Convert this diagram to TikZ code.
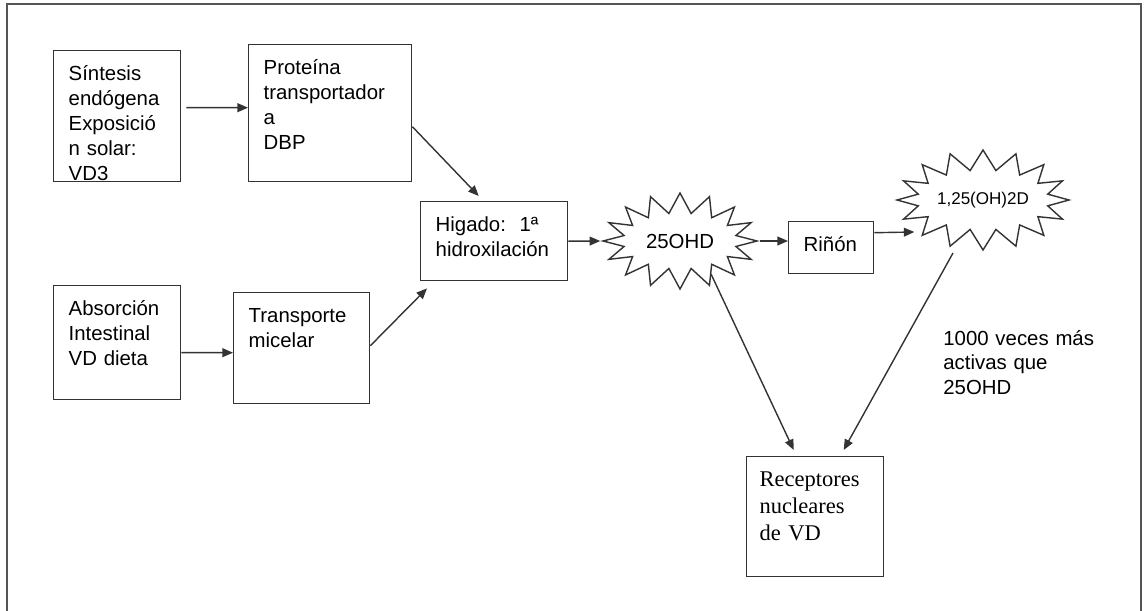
\documentclass[tikz,border=0pt]{standalone}
\usepackage{fontspec}
\setmainfont{Liberation Sans}
\newfontfamily\recfont{Liberation Serif}
\usetikzlibrary{arrows.meta,shapes.symbols}
\definecolor{linegray}{HTML}{333333}
\definecolor{framegray}{HTML}{555555}

\begin{document}
\begin{tikzpicture}[x=0.02cm, y=-0.02cm, >={Triangle[length=6pt,width=5pt]},
    font=\fontsize{11.6}{14.2}\selectfont,
    caja/.style={draw=linegray, line width=0.8pt, anchor=north west, align=left,
        inner xsep=0.3cm, inner ysep=0.2cm, text height=0.4cm},
    estrella/.style={starburst, draw=linegray, line width=0.8pt, starburst points=16,
        starburst point height=0.4cm, random starburst=0, inner sep=0pt},
    flecha/.style={->, line width=0.8pt, linegray}]

    % Frame
    \useasboundingbox (0,0) rectangle (1145,611);
    \draw[framegray, line width=0.8pt] (7,611) -- (7,4) -- (1141,4) -- (1141,611);

    % Boxes
    \node[caja, text width=1.94cm, text depth=1.82cm] (sintesis) at (53,50)
        {Síntesis\\endógena\\Exposició\\n solar:\\VD3};
    \node[caja, text width=2.66cm, text depth=1.94cm] (proteina) at (248,44)
        {Proteína\\transportador\\a\\DBP};
    \node[caja, text width=1.94cm, text depth=1.48cm] (absorcion) at (53,285)
        {Absorción\\Intestinal\\VD dieta};
    \node[caja, text width=2.12cm, text depth=1.42cm] (transporte) at (233,292)
        {Transporte\\micelar};
    \node[caja, text width=2.34cm, text depth=0.78cm] (higado) at (420,201)
        {Higado:~~1ª\\hidroxilación};
    \node[caja, text width=1.1cm, text depth=0.24cm] (rinon) at (788,221) {Riñón};
    \node[caja, font=\recfont\fontsize{12.8}{15.3}\selectfont, inner xsep=0.26cm,
        text width=2.22cm, text depth=1.6cm] (receptores) at (746,456)
        {Receptores\\nucleares\\de VD};

    % Stars
    \node[estrella, minimum width=3.08cm, minimum height=1.92cm] (ohd) at (680,241) {25OHD};
    \node[estrella, font=\fontsize{9.7}{12}\selectfont, minimum width=3.44cm,
        minimum height=2cm] (dihidroxi) at (983,200) {1,25(OH)2D};

    % Note
    \node[anchor=base west, text width=3.6cm, align=left, inner sep=0pt] (nota) at (943,345)
        {1000 veces más\\activas que\\25OHD};

    % Arrows
    \draw[flecha] ([xshift=0.1cm,yshift=0.17cm]sintesis.east) -- ([yshift=0.11cm]proteina.west);
    \draw[flecha] ([yshift=-0.2cm]absorcion.east) -- ([yshift=-0.09cm]transporte.west);
    \draw[flecha] ([yshift=-0.27cm]proteina.east) -- ([xshift=-0.31cm,yshift=0.1cm]higado.north);
    \draw[flecha] ([yshift=0.05cm]transporte.east) -- ([xshift=0.14cm,yshift=-0.14cm]higado.south west);
    \draw[flecha] (higado.east) -- (ohd.west);
    \draw[flecha] (ohd.east) -- (ohd.east -| rinon.west);
    \draw[flecha] ([yshift=0.3cm]rinon.east) -- ([xshift=0.4cm,yshift=-0.64cm]dihidroxi.west);
    \draw[flecha] ([xshift=0.62cm,yshift=-0.66cm]ohd.center) -- ([xshift=-0.43cm,yshift=0.12cm]receptores.north);
    \draw[flecha] ([xshift=-0.6cm,yshift=-1.06cm]dihidroxi.center) -- ([xshift=0.57cm,yshift=0.12cm]receptores.north);

\end{tikzpicture}
\end{document}
